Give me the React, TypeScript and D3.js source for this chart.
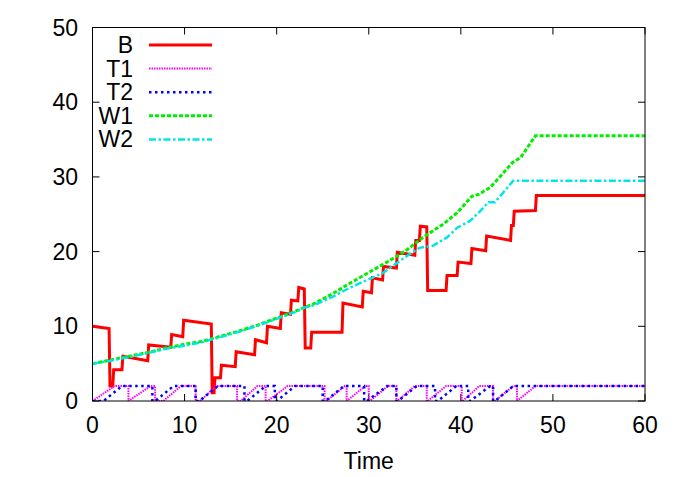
import React from 'react';
import * as d3 from 'd3';

// series: [time, value]
const seriesB: [number, number][] = [
  [0, 10.0], [1.8, 9.7], [1.9, 2.0], [2.2, 2.0], [2.3, 4.2], [3.2, 4.2], [3.3, 6.0], [6.0, 5.4],
  [6.1, 7.5], [8.5, 7.2], [8.6, 8.9], [9.8, 8.6], [9.9, 10.8], [12.9, 10.3], [13.0, 1.1], [13.2, 1.1],
  [13.3, 3.1], [13.9, 3.1], [14.0, 4.8], [15.5, 4.6], [15.6, 6.6], [17.6, 6.2], [17.7, 8.2], [18.9, 7.8],
  [19.0, 10.0], [20.4, 9.7], [20.5, 11.8], [21.5, 11.6], [21.6, 13.5], [22.3, 13.4], [22.4, 15.2],
  [23.0, 15.0], [23.1, 7.1], [23.7, 7.1], [23.8, 9.2], [27.1, 9.2], [27.2, 13.1], [29.3, 12.6],
  [29.4, 14.7], [30.3, 14.5], [30.4, 16.5], [31.5, 16.2], [31.6, 18.0], [33.0, 17.8], [33.1, 19.9],
  [35.0, 19.5], [35.1, 21.5], [35.5, 21.5], [35.6, 23.4], [36.3, 23.3], [36.4, 14.8], [38.4, 14.8],
  [38.5, 16.8], [39.6, 16.8], [39.7, 18.6], [41.1, 18.4], [41.2, 20.4], [42.7, 20.1], [42.8, 22.1],
  [45.4, 21.5], [45.5, 23.5], [45.7, 23.5], [45.8, 25.4], [48.1, 25.5], [48.2, 27.5], [60, 27.5],
];

// sawtooth phases: [ramp start, reaches 2, drops back]
const cyclesT1: [number, number, number][] = [
  [0, 2.4, 3.9], [3.9, 6.3, 6.8], [7.7, 9.6, 11.2], [11.7, 13.4, 15.7], [16.1, 17.9, 18.8],
  [19.0, 21.2, 25.2], [25.4, 27.4, 27.6], [27.6, 29.6, 30.0], [30.1, 32.1, 33.0], [33.1, 35.0, 36.3],
  [36.4, 38.4, 40.1], [40.2, 42.0, 43.5], [43.7, 45.7, 46.1], [46.1, 48.1, 60],
];
const cyclesT2: [number, number, number][] = [
  [1.2, 3.2, 6.5], [6.8, 8.8, 11.2], [11.6, 13.6, 16.5], [16.8, 18.8, 19.8], [20.0, 22.0, 25.0],
  [25.3, 27.3, 29.5], [29.8, 32.0, 33.0], [33.2, 35.2, 37.2], [37.5, 39.5, 40.8], [41.0, 43.2, 43.5],
  [43.7, 45.7, 60],
];
const tLevel = 2;

const seriesW1: [number, number][] = [
  [0, 5.0], [2, 5.5], [4, 6.0], [6, 6.5], [8, 7.1], [10, 7.6], [12, 8.0], [14, 8.7], [16, 9.4],
  [18, 10.2], [20, 11.1], [22, 12.0], [24, 13.0], [26, 14.3], [28, 15.8], [30, 17.2], [32, 18.6],
  [34, 20.1], [36, 22.0], [38, 23.6], [39.6, 25.2], [41.2, 27.4], [42, 27.7], [43.2, 28.6],
  [44.3, 30.1], [45.6, 31.9], [46.5, 32.6], [48.1, 35.5], [60, 35.5],
];
const seriesW2: [number, number][] = [
  [0, 5.0], [2, 5.4], [4, 5.9], [6, 6.4], [8, 7.0], [10, 7.4], [12, 7.9], [14, 8.6], [16, 9.3],
  [18, 10.1], [20, 11.0], [22, 11.9], [23, 12.5], [24, 12.8], [26, 13.9], [28, 15.2], [30, 16.3],
  [31.5, 17.1], [34, 19.3], [35.5, 20.5], [37, 20.8], [38.5, 21.9], [39.6, 23.2], [41, 24.1],
  [42, 25.3], [43, 26.6], [43.7, 26.6], [45.7, 29.5], [60, 29.5],
];

const xTicks = [0, 10, 20, 30, 40, 50, 60];
const yTicks = [0, 10, 20, 30, 40, 50];
const legendNames = ['B', 'T1', 'T2', 'W1', 'W2'];

function sawtooth(cycles: [number, number, number][]): [number, number][] {
  const pts: [number, number][] = [];
  if (cycles[0][0] > 0) pts.push([0, 0]);
  cycles.forEach(([a, b, c]) => {
    pts.push([a, 0], [b, tLevel], [c, tLevel]);
    if (c < 60) pts.push([c, 0]);
  });
  return pts;
}

const styles = [
  { color: '#ff0000', width: 3, dash: '' },
  { color: '#ff00ff', width: 2, dash: '1.5,1' },
  { color: '#0000ff', width: 2.5, dash: '2.5,3.5' },
  { color: '#00ee00', width: 3, dash: '4,2' },
  { color: '#00e5e5', width: 2.5, dash: '7,2.5,2.5,2.5' },
];

const W = 681;
const H = 477;
const left = 92.5;
const right = 645;
const top = 27.5;
const bottom = 401;
const font = '"Liberation Sans", Arial, sans-serif';
const fs = 23;

export default function App() {
  const x = d3.scaleLinear().domain([0, 60]).range([left, right]);
  const y = d3.scaleLinear().domain([0, 50]).range([bottom, top]);
  const line = d3.line<[number, number]>().x(d => x(d[0])).y(d => y(d[1]));
  const data = [seriesB, sawtooth(cyclesT1), sawtooth(cyclesT2), seriesW1, seriesW2];
  const tick = 7;

  return (
    <svg width={W} height={H} style={{ position: 'absolute', left: 0, top: 0, background: '#fff' }}
      fontFamily={font}>
      <defs>
        <clipPath id="plot">
          <rect x={left} y={top - 3} width={right - left} height={bottom - top + 3} />
        </clipPath>
      </defs>
      {xTicks.map(t => (
        <g key={'x' + t}>
          <line x1={x(t)} x2={x(t)} y1={bottom} y2={bottom - tick} stroke="#000" />
          <line x1={x(t)} x2={x(t)} y1={top} y2={top + tick} stroke="#000" />
          <text x={x(t)} y={433} fontSize={fs} textAnchor="middle">{t}</text>
        </g>
      ))}
      {yTicks.map(t => (
        <g key={'y' + t}>
          <line x1={left} x2={left + tick} y1={y(t)} y2={y(t)} stroke="#000" />
          <line x1={right} x2={right - tick} y1={y(t)} y2={y(t)} stroke="#000" />
          <text x={78} y={y(t) + 8} fontSize={fs} textAnchor="end">{t}</text>
        </g>
      ))}
      <text x={(left + right) / 2} y={469} fontSize={fs} textAnchor="middle">Time</text>

      <g clipPath="url(#plot)">
        {data.map((d, i) => (
          <path key={i} d={line(d) || ''} fill="none" stroke={styles[i].color}
            strokeWidth={styles[i].width} strokeDasharray={styles[i].dash || undefined}
            strokeLinejoin="miter" />
        ))}
      </g>

      {legendNames.map((n, i) => {
        const ly = 45 + i * 23.6;
        return (
          <g key={n}>
            <text x={133} y={ly + 8} fontSize={fs} textAnchor="end">{n}</text>
            <line x1={149} x2={212} y1={ly} y2={ly} stroke={styles[i].color}
              strokeWidth={styles[i].width} strokeDasharray={styles[i].dash || undefined} />
          </g>
        );
      })}

      <rect x={left} y={top} width={right - left} height={bottom - top} fill="none" stroke="#000" strokeWidth={1} />
    </svg>
  );
}
